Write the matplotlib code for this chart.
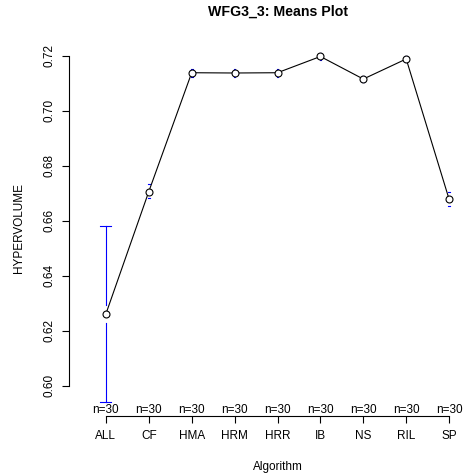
import matplotlib
matplotlib.use("Agg")
import matplotlib.pyplot as plt
import numpy as np

# --- data ------------------------------------------------------------------
algorithms = ["ALL", "CF", "HMA", "HRM", "HRR", "IB", "NS", "RIL", "SP"]
means = [0.6261, 0.6706, 0.7138, 0.7137, 0.7138, 0.7197, 0.7115, 0.7188, 0.6678]
ci_low = [0.5940, 0.6682, 0.7123, 0.7123, 0.7124, 0.7186, 0.7104, 0.7177, 0.6654]
ci_high = [0.6579, 0.6732, 0.7153, 0.7152, 0.7153, 0.7208, 0.7126, 0.7199, 0.6703]
counts = [30, 30, 30, 30, 30, 30, 30, 30, 30]
yticks = [0.60, 0.62, 0.64, 0.66, 0.68, 0.70, 0.72]

plt.rcParams["font.family"] = ["Liberation Sans", "DejaVu Sans"]

W, H = 466, 475
fig = plt.figure(figsize=(W / 100, H / 100), dpi=100)
fig.patch.set_facecolor("white")

# plot region like R: left edge at the y axis, x range 0.5..n+0.5 padded 4%
ax = fig.add_axes([69 / W, 0.1238, 417 / W, 0.7930])
n = len(algorithms)
x = np.arange(1, n + 1)

lo, hi = min(ci_low), max(ci_high)
pad = 0.04 * (hi - lo)
ax.set_ylim(lo - pad, hi + pad)
xpad = 0.04 * n
ax.set_xlim(0.5 - xpad, n + 0.5 + xpad)

# error bars with a gap around the mean
gap = 0.0033
cap = 0.128
for xi, m, l, h in zip(x, means, ci_low, ci_high):
    if h - m > gap:
        ax.plot([xi, xi], [m + gap, h], color="blue", lw=0.8)
        ax.plot([xi - cap, xi + cap], [h, h], color="blue", lw=0.8)
    else:
        ax.plot([xi - 0.02, xi + 0.02], [h, h], color="blue", lw=0.8)
    if m - l > gap:
        ax.plot([xi, xi], [l, m - gap], color="blue", lw=0.8)
        ax.plot([xi - cap, xi + cap], [l, l], color="blue", lw=0.8)
    else:
        ax.plot([xi - 0.02, xi + 0.02], [l, l], color="blue", lw=0.8)

ax.plot(x, means, color="black", lw=0.8, zorder=3)
ax.plot(x, means, "o", ms=5, mfc="white", mec="black", mew=0.8, zorder=4)

# sample sizes along the bottom
for xi, c in zip(x, counts):
    ax.text(xi, lo - pad, f"n={c}", ha="center", va="bottom", fontsize=8.5,
            clip_on=False)

ax.set_xticks(x)
ax.set_xticklabels(algorithms)
ax.set_yticks(yticks)
ax.set_yticklabels([f"{v:.2f}" for v in yticks])
ax.tick_params(axis="x", length=5, width=0.8, pad=5, labelsize=8.5)
ax.tick_params(axis="y", length=5, width=0.8, pad=5, labelsize=8.5,
               labelrotation=90)
for lab in ax.get_yticklabels():
    lab.set_va("center")

for s in ["top", "right"]:
    ax.spines[s].set_visible(False)
ax.spines["left"].set_bounds(yticks[0], yticks[-1])
ax.spines["bottom"].set_bounds(1, n)
ax.spines["left"].set_linewidth(0.8)
ax.spines["bottom"].set_linewidth(0.8)

ax.text(-0.1206, 0.5, "HYPERVOLUME", transform=ax.transAxes, rotation=90,
        ha="center", va="center", fontsize=8.5)
fig.text(277.5 / W, 1 - 466.7 / H, "Algorithm", ha="center", va="center",
         fontsize=8.5)
fig.text(277.5 / W, 1 - 11.7 / H, "WFG3_3: Means Plot", ha="center",
         va="center", fontsize=10.2, fontweight="bold")

fig.savefig("out.png", dpi=100)
plt.close(fig)
